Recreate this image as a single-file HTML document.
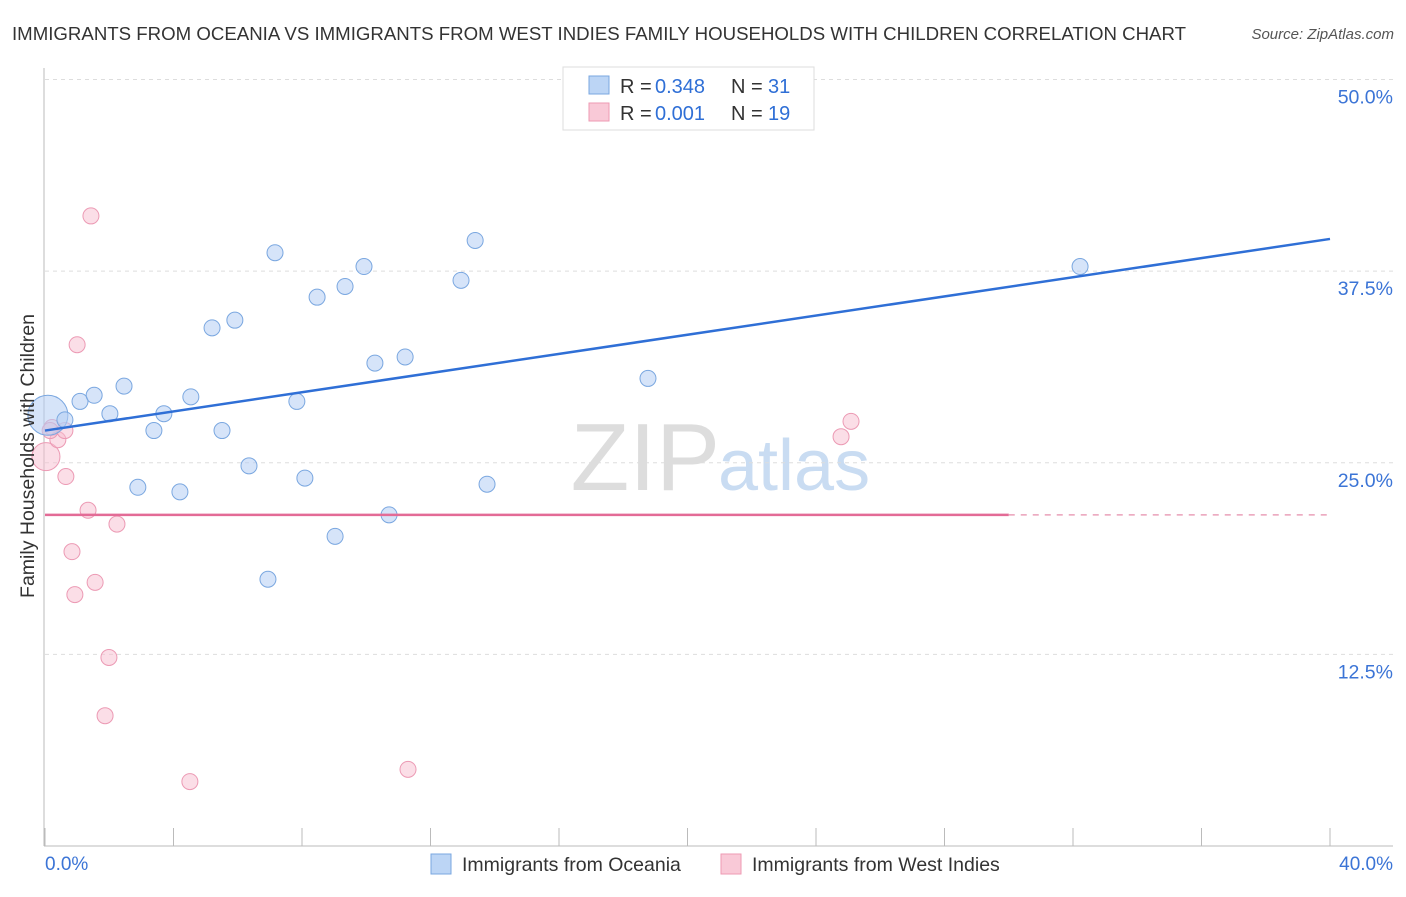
<!DOCTYPE html>
<html><head><meta charset="utf-8">
<style>
body{margin:0;background:#fff;font-family:"Liberation Sans",sans-serif;}
svg text{font-family:"Liberation Sans",sans-serif;}
</style></head>
<body>
<svg id="chart" width="1406" height="892">
<text x="12" y="40" font-size="18" fill="#333" textLength="1174" lengthAdjust="spacingAndGlyphs">IMMIGRANTS FROM OCEANIA VS IMMIGRANTS FROM WEST INDIES FAMILY HOUSEHOLDS WITH CHILDREN CORRELATION CHART</text>
<text x="1394" y="39" font-size="15" fill="#555" text-anchor="end" font-style="italic">Source: ZipAtlas.com</text>
<text x="720" y="490" font-size="96" fill="#ddd" text-anchor="end" font-family="Liberation Serif">ZIP</text>
<text x="718" y="490" font-size="72" fill="#c9dcf2">atlas</text>
<g id="grid"></g><g id="axes"></g><g id="marks"></g>
<text transform="translate(34,456) rotate(-90)" font-size="19.5" fill="#333" text-anchor="middle">Family Households with Children</text>
<g>
<rect x="563" y="67" width="251" height="63" fill="#fff" stroke="#ddd"/>
<rect x="589" y="76" width="20" height="18" fill="#bcd5f5" stroke="#7aa7e0"/>
<rect x="589" y="103" width="20" height="18" fill="#f9c9d7" stroke="#ee9ab3"/>
<text x="620" y="93" font-size="20" fill="#333">R =</text>
<text x="655" y="93" font-size="20" fill="#2f6fd6">0.348</text>
<text x="731" y="93" font-size="20" fill="#333">N =</text>
<text x="768" y="93" font-size="20" fill="#2f6fd6">31</text>
<text x="620" y="120" font-size="20" fill="#333">R =</text>
<text x="655" y="120" font-size="20" fill="#2f6fd6">0.001</text>
<text x="731" y="120" font-size="20" fill="#333">N =</text>
<text x="768" y="120" font-size="20" fill="#2f6fd6">19</text>
</g>
<g>
<rect x="431" y="854" width="20" height="20" fill="#bcd5f5" stroke="#7aa7e0"/>
<text x="462" y="871" font-size="19.5" fill="#333">Immigrants from Oceania</text>
<rect x="721" y="854" width="20" height="20" fill="#f9c9d7" stroke="#ee9ab3"/>
<text x="752" y="871" font-size="19.5" fill="#333">Immigrants from West Indies</text>
</g>
</svg>
<script>
const yTicks=[12.5,25,37.5,50];
const yTickLabels=["12.5%","25.0%","37.5%","50.0%"];
const xTicks=[0,4,8,12,16,20,24,28,32,36,40];
const blueX=[0.09,0.62,1.09,1.53,2.02,2.46,2.89,3.39,3.70,4.20,4.54,5.20,5.51,5.91,6.35,6.94,7.16,7.84,8.09,8.47,9.03,9.34,9.93,10.27,10.71,11.21,12.95,13.39,13.76,18.77,32.22];
const blueY=[28.1,27.8,29.0,29.4,28.2,30.0,23.4,27.1,28.2,23.1,29.3,33.8,27.1,34.3,24.8,17.4,38.7,29.0,24.0,35.8,20.2,36.5,37.8,31.5,21.6,31.9,36.9,39.5,23.6,30.5,37.8];
const pinkX=[0.03,0.22,0.4,0.62,0.65,0.84,0.93,1.0,1.34,1.43,1.56,1.87,1.99,2.24,4.51,11.3,24.78,25.09,0.16];
const pinkY=[25.4,27.3,26.5,27.1,24.1,19.2,16.4,32.7,21.9,41.1,17.2,8.5,12.3,21.0,4.2,5.0,26.7,27.7,27.1];
const blueTrend=[27.1,39.6];
const pinkTrend=[21.6,21.6];
const pinkSolidEnd=30;
const NS="http://www.w3.org/2000/svg";
const xs=v=>45+v*32.125, ys=v=>846-v*15.33;
function mk(t,a,p){const e=document.createElementNS(NS,t);for(const k in a)e.setAttribute(k,a[k]);p.appendChild(e);return e;}
const grid=document.getElementById('grid'),axes=document.getElementById('axes'),marks=document.getElementById('marks');
yTicks.forEach((t,i)=>{
 const l=mk('line',{x1:45,x2:1393,y1:ys(t),y2:ys(t),stroke:'#ddd','stroke-dasharray':'4,4'},grid);
 
 
 const tx=mk('text',{x:1393,y:ys(t)+24,'font-size':19.5,fill:'#3b74d6','text-anchor':'end'},axes);
 tx.textContent=yTickLabels[i];
 
 
});
const ax=mk('line',{x1:44,x2:44,y1:68,y2:846,stroke:'#bbb'},axes);


const bx=mk('line',{x1:44,x2:1393,y1:846,y2:846,stroke:'#bbb'},axes);


xTicks.forEach(t=>{
 const l=mk('line',{x1:xs(t),x2:xs(t),y1:828,y2:846,stroke:'#bbb'},axes);
 
 
});
const x0=mk('text',{x:45,y:870,'font-size':19,fill:'#3b74d6'},axes);x0.textContent=xTicks[0].toFixed(1)+'%';


const x1=mk('text',{x:1393,y:870,'font-size':19,fill:'#3b74d6','text-anchor':'end'},axes);x1.textContent=xTicks[xTicks.length-1].toFixed(1)+'%';


pinkX.forEach((v,i)=>{
 const c=mk('circle',{cx:xs(v),cy:ys(pinkY[i]),r:i==0?14:8,fill:'rgba(248,190,208,0.5)',stroke:'#ec9ab4','stroke-width':1},marks);
 
 
});
blueX.forEach((v,i)=>{
 const c=mk('circle',{cx:xs(v),cy:ys(blueY[i]),r:i==0?20:8,fill:'rgba(180,206,244,0.55)',stroke:'#7aa7e0','stroke-width':1},marks);
 
 
});
const bt=mk('line',{x1:xs(0),y1:ys(blueTrend[0]),x2:xs(40),y2:ys(blueTrend[1]),stroke:'#2f6fd6','stroke-width':2.5},marks);


const pyAt=v=>pinkTrend[0]+(pinkTrend[1]-pinkTrend[0])*v/40;
const pt=mk('line',{x1:xs(0),y1:ys(pyAt(0)),x2:xs(pinkSolidEnd),y2:ys(pyAt(pinkSolidEnd)),stroke:'#e36b96','stroke-width':2.5},marks);


const pd=mk('line',{x1:xs(pinkSolidEnd),y1:ys(pyAt(pinkSolidEnd)),x2:xs(40),y2:ys(pyAt(40)),stroke:'#eaa0b9','stroke-width':1.5,'stroke-dasharray':'6,6'},marks);


</script>
</body></html>
